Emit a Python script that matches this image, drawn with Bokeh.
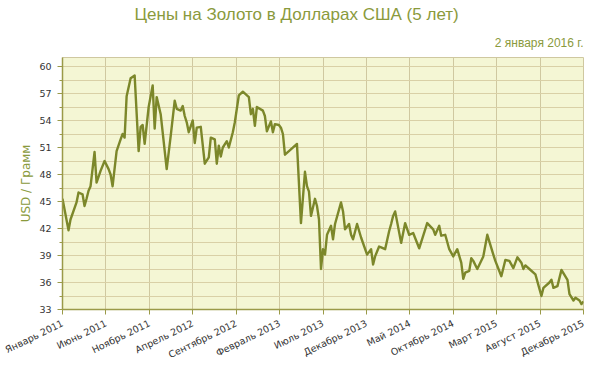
import math
from bokeh.plotting import figure
from bokeh.models import FixedTicker, Title, Range1d, ColumnDataSource, CustomJSTickFormatter
from bokeh.embed import file_html
from bokeh.resources import INLINE

# week index since the start of January 2011
weeks = [0, 3, 4, 7, 8, 10, 11, 12, 13, 14, 16, 17, 19, 21, 23, 24, 25, 27, 29, 30,
         31, 32, 34, 36, 38, 39, 40, 41, 43, 45, 46, 47, 49, 52, 54, 56, 57, 59, 60, 61,
         62, 63, 65, 66, 67, 69, 71, 73, 74, 76, 77, 78, 79, 80, 82, 83, 85, 86, 88, 90,
         93, 94, 95, 96, 97, 100, 101, 102, 104, 105, 106, 108, 109, 110, 111, 113, 117, 119, 121, 122,
         123, 124, 126, 127, 128, 129, 130, 131, 132, 134, 135, 136, 139, 140, 141, 143, 144, 145, 147, 149,
         152, 154, 155, 156, 158, 159, 161, 163, 164, 165, 166, 169, 171, 173, 175, 178, 182, 185, 186, 188,
         189, 191, 193, 195, 197, 199, 200, 201, 203, 204, 205, 207, 210, 212, 215, 216, 219, 221, 223, 225,
         227, 229, 230, 231, 233, 236, 239, 240, 243, 244, 245, 247, 249, 252, 253, 255, 256, 258, 259, 260]

prices = [45.3, 41.8, 43.0, 44.9, 46.0, 45.8, 44.5, 45.3, 46.2, 46.7, 50.5, 47.1, 48.4, 49.5, 48.6, 48.0, 46.7, 50.6, 51.9, 52.5,
          52.1, 56.7, 58.7, 59.0, 50.6, 53.3, 53.5, 51.4, 55.5, 57.9, 53.1, 56.6, 54.7, 48.6, 52.3, 56.2, 55.3, 55.1, 55.6, 54.5,
          53.8, 52.7, 54.0, 51.5, 53.2, 53.3, 49.2, 49.9, 52.1, 51.9, 49.2, 51.2, 50.0, 51.0, 51.7, 51.0, 52.7, 53.8, 56.8, 57.2,
          56.6, 54.7, 55.3, 53.4, 55.5, 55.1, 54.5, 52.8, 53.9, 52.7, 53.6, 53.5, 53.2, 52.5, 50.2, 50.6, 51.4, 42.6, 48.3, 46.7,
          46.1, 43.4, 45.3, 44.5, 43.0, 37.5, 39.7, 39.1, 41.3, 42.3, 40.8, 42.5, 44.9, 43.9, 41.9, 42.5, 41.3, 40.8, 42.5, 41.0,
          39.1, 39.7, 38.0, 38.9, 40.0, 39.9, 39.7, 41.7, 42.5, 43.4, 43.9, 40.4, 42.6, 41.3, 41.5, 39.8, 42.6, 41.9, 41.3, 42.3,
          41.2, 41.3, 39.7, 38.9, 39.7, 38.2, 36.4, 37.1, 37.3, 38.7, 38.4, 37.5, 38.9, 41.3, 39.1, 38.4, 36.7, 38.5, 38.4, 37.6,
          38.8, 38.2, 37.5, 37.9, 37.5, 36.9, 34.5, 35.4, 36.0, 36.3, 35.4, 35.6, 37.4, 36.3, 34.7, 34.0, 34.3, 34.0, 33.6, 33.9]

tick_labels = ["Январь 2011", "Июнь 2011", "Ноябрь 2011", "Апрель 2012", "Сентябрь 2012",
               "Февраль 2013", "Июль 2013", "Декабрь 2013", "Май 2014", "Октябрь 2014",
               "Март 2015", "Август 2015", "Декабрь 2015"]
total_weeks = 260
y_major = [33, 36, 39, 42, 45, 48, 51, 54, 57, 60]
y_minor = [34.5, 37.5, 40.5, 43.5, 46.5, 49.5, 52.5, 55.5, 58.5]

title_text = "Цены на Золото в Долларах США (5 лет)"
date_text = "2 января 2016 г."

OLIVE_TEXT = "#8a9a3c"
LINE_COLOR = "#7c872a"
GRID = "#d9d0a6"
AXIS = "#9a9a48"

step = total_weeks / (len(tick_labels) - 1)
x_ticks = [i * step for i in range(len(tick_labels))]

src = ColumnDataSource(dict(w=weeks, price=prices))

p = figure(frame_width=521, frame_height=252,
           x_range=Range1d(0, total_weeks), y_range=Range1d(33, 61),
           output_backend="svg", toolbar_location=None,
           min_border_left=62, min_border_right=7, min_border_top=57, min_border_bottom=62)

p.background_fill_color = "#f4f6d4"
p.border_fill_color = "white"
p.outline_line_color = "#cfc8a0"

p.line("w", "price", source=src, line_color=LINE_COLOR, line_width=2.4, line_join="round")

# x axis
p.xaxis.ticker = FixedTicker(ticks=x_ticks)
p.xaxis.formatter = CustomJSTickFormatter(args=dict(labels=tick_labels, step=step),
                                          code="return labels[Math.round(tick/step)] || '';")
p.xaxis.major_label_orientation = math.radians(26)
p.xaxis.major_tick_in = 0
p.xaxis.major_tick_out = 5

# y axis
p.yaxis.ticker = FixedTicker(ticks=y_major, minor_ticks=y_minor)
p.yaxis.major_tick_in = 0
p.yaxis.major_tick_out = 5
p.yaxis.minor_tick_in = 0
p.yaxis.minor_tick_out = 3
p.yaxis.axis_label = "USD / Грамм"
p.yaxis.axis_label_text_font = "DejaVu Sans"
p.yaxis.axis_label_text_font_size = "12px"
p.yaxis.axis_label_text_font_style = "normal"
p.yaxis.axis_label_text_color = OLIVE_TEXT
p.yaxis.axis_label_standoff = 3

for ax in (p.xaxis, p.yaxis):
    ax.axis_line_color = AXIS
    ax.axis_line_width = 1.5
    ax.major_tick_line_color = AXIS
    ax.major_label_text_font = "DejaVu Sans"
    ax.major_label_text_font_size = "9.5px"
    ax.major_label_text_color = "#333333"
p.xaxis.minor_tick_line_color = None
p.yaxis.minor_tick_line_color = AXIS
p.xaxis.major_label_standoff = 8
p.yaxis.major_label_standoff = 6

p.xgrid.ticker = FixedTicker(ticks=x_ticks)
p.xgrid.grid_line_color = "#cfc8a0"
p.ygrid.ticker = FixedTicker(ticks=y_major, minor_ticks=y_minor)
p.ygrid.grid_line_color = GRID
p.ygrid.minor_grid_line_color = GRID

date_t = Title(text=date_text, align="right", text_font="Liberation Sans", text_font_size="12px",
               text_font_style="normal", text_color=OLIVE_TEXT, standoff=16)
main_t = Title(text=title_text, align="left", offset=72, text_font="Liberation Sans",
               text_font_size="17px", text_font_style="normal", text_color=OLIVE_TEXT, standoff=4)
p.add_layout(date_t, "above")
p.add_layout(main_t, "above")

open("out.html", "w").write(file_html(p, INLINE))
